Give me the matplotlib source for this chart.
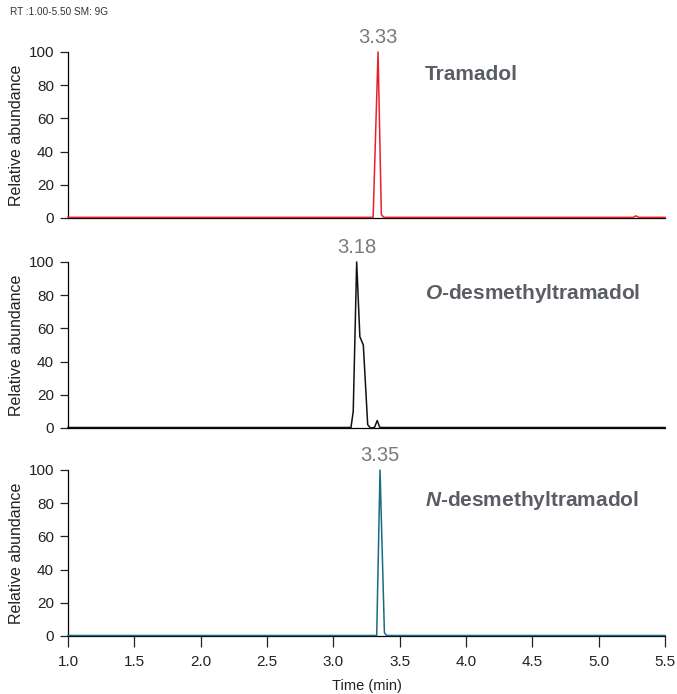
import matplotlib
matplotlib.use('Agg')
import matplotlib.pyplot as plt

plt.rcParams['font.family'] = ['Liberation Sans', 'DejaVu Sans']
plt.rcParams['mathtext.fontset'] = 'custom'
plt.rcParams['mathtext.bfit'] = 'Liberation Sans:italic:bold'

# хроматограммы (время, мин; относительная интенсивность, %)
tramadol_t = [1.0, 3.300, 3.337, 3.362, 3.380, 5.26, 5.28, 5.30, 5.5]
tramadol_y = [0.4, 0.4, 100, 2, 0.4, 0.4, 1.3, 0.4, 0.4]

odesm_t = [1.0, 3.133, 3.150, 3.176, 3.200, 3.226, 3.259, 3.280,
           3.310, 3.331, 3.350, 5.5]
odesm_y = [0.3, 0.3, 10, 100, 55, 50, 2, 0.0, 0.3, 4.5, 0.3, 0.3]

ndesm_t = [1.0, 3.327, 3.352, 3.385, 3.400, 5.5]
ndesm_y = [0.3, 0.3, 100, 2, 0.3, 0.3]

names = ['Tramadol', '$\\mathbfit{O}$-desmethyltramadol',
         '$\\mathbfit{N}$-desmethyltramadol']
peak_labels = ['3.33', '3.18', '3.35']
colors = ['#e8202a', '#111111', '#1a6b82']

series = [(tramadol_t, tramadol_y), (odesm_t, odesm_y), (ndesm_t, ndesm_y)]
x_ticks = [1.0, 1.5, 2.0, 2.5, 3.0, 3.5, 4.0, 4.5, 5.0, 5.5]
y_ticks = [0, 20, 40, 60, 80, 100]

fig = plt.figure(figsize=(6.77, 6.94), dpi=100)
left, width, height = 0.1004, 0.8819, 0.2392
bottoms = [0.6859, 0.3833, 0.0836]
name_y = [0.867, 0.813, 0.819]

fig.text(0.015, 0.978, 'RT :1.00-5.50 SM: 9G', fontsize=7.2, color='#333333')

for i, ((t, y), bottom) in enumerate(zip(series, bottoms)):
    ax = fig.add_axes([left, bottom, width, height])
    ax.plot(t, y, color=colors[i], linewidth=1.1, clip_on=False, zorder=3)
    ax.set_xlim(1.0, 5.5)
    ax.set_ylim(0, 100)
    ax.spines['top'].set_visible(False)
    ax.spines['right'].set_visible(False)
    ax.spines['left'].set_linewidth(0.9)
    ax.spines['bottom'].set_linewidth(0.9)
    ax.set_yticks(y_ticks)
    ax.tick_params(axis='y', length=6, width=0.9, labelsize=11,
                   colors='#222222', pad=4)
    ax.set_ylabel('Relative abundance', fontsize=11.5, color='#222222',
                  labelpad=3)
    if i < 2:
        ax.set_xticks([])
    else:
        ax.set_xticks(x_ticks)
        ax.set_xticklabels([f'{v:.1f}' for v in x_ticks])
        ax.tick_params(axis='x', length=8, width=0.9, labelsize=11,
                       colors='#222222', pad=6)
        ax.set_xlabel('Time (min)', fontsize=10.5, color='#222222',
                      labelpad=7)
    # подпись пика
    peak = y.index(max(y))
    ax.text(t[peak], 103, peak_labels[i], ha='center', va='bottom',
            fontsize=14.5, color='#7a7a7a', clip_on=False)
    ax.text(0.598, name_y[i], names[i], transform=ax.transAxes, ha='left',
            va='center', fontsize=15, fontweight='bold', color='#5a5d63')

fig.savefig('out.png', dpi=100)
